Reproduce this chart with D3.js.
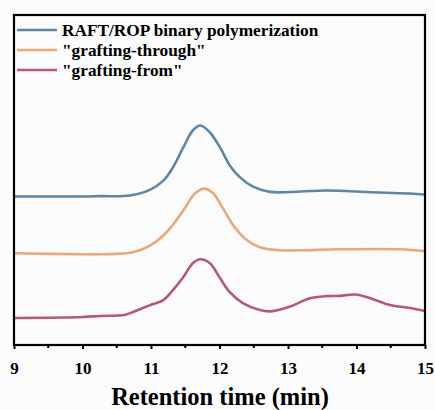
<!DOCTYPE html>
<html>
<head>
<meta charset="utf-8">
<script src="https://cdn.jsdelivr.net/npm/d3@7"></script>
<style>
  html, body { margin: 0; padding: 0; background: #fbfbfb; }
  svg { display: block; }
  text { font-family: "Liberation Serif", "Times New Roman", serif; font-weight: bold; fill: #000; }
</style>
</head>
<body>
<svg id="chart" width="435" height="410"></svg>
<script>
// Retention times (min) and detector signal (offset traces, arbitrary units)
const raftTime = [9.0, 9.5, 10.0, 10.26, 10.69, 10.99, 11.18, 11.32, 11.47, 11.61, 11.72, 11.86, 12.01, 12.15, 12.30, 12.49, 12.74, 13.18, 13.54, 13.91, 14.34, 14.78, 15.0];
const raftSignal = [4.50, 4.50, 4.50, 4.51, 4.53, 4.71, 4.98, 5.38, 5.98, 6.50, 6.65, 6.44, 5.98, 5.44, 5.08, 4.80, 4.64, 4.65, 4.68, 4.66, 4.62, 4.59, 4.56];

const throughTime = [9.0, 10.0, 10.26, 10.74, 10.99, 11.18, 11.35, 11.50, 11.64, 11.78, 11.91, 12.05, 12.20, 12.37, 12.59, 12.88, 13.18, 13.76, 14.63, 15.0];
const throughSignal = [2.78, 2.75, 2.75, 2.81, 3.02, 3.32, 3.72, 4.17, 4.59, 4.74, 4.59, 4.14, 3.63, 3.23, 2.96, 2.87, 2.87, 2.90, 2.90, 2.84];

const fromTime = [9.0, 10.0, 10.26, 10.61, 10.74, 10.88, 11.03, 11.18, 11.32, 11.47, 11.61, 11.72, 11.86, 12.01, 12.15, 12.34, 12.59, 12.75, 13.01, 13.18, 13.32, 13.54, 13.76, 13.98, 14.20, 14.49, 14.78, 15.0];
const fromSignal = [0.82, 0.85, 0.88, 0.91, 1.00, 1.12, 1.24, 1.36, 1.66, 2.05, 2.48, 2.60, 2.48, 2.02, 1.60, 1.27, 1.06, 1.02, 1.15, 1.30, 1.42, 1.48, 1.49, 1.53, 1.42, 1.21, 1.12, 1.03];

const seriesNames = ["RAFT/ROP binary polymerization", "\"grafting-through\"", "\"grafting-from\""];
const seriesColors = ["#6086a5", "#e8a878", "#b55a6f"];
const xTicks = [9, 10, 11, 12, 13, 14, 15];
const xMinorTicks = [9.5, 10.5, 11.5, 12.5, 13.5, 14.5];
const xTitle = "Retention time (min)";

const svg = d3.select("#chart");
const plotLeft = 14, plotRight = 425, plotTop = 15, plotBottom = 345;

const x = d3.scaleLinear().domain([9, 15]).range([plotLeft, plotRight]);
const y = d3.scaleLinear().domain([0, 10]).range([plotBottom, plotTop]);

const series = [
  { name: seriesNames[0], color: seriesColors[0], pts: raftTime.map((t, i) => [t, raftSignal[i]]) },
  { name: seriesNames[1], color: seriesColors[1], pts: throughTime.map((t, i) => [t, throughSignal[i]]) },
  { name: seriesNames[2], color: seriesColors[2], pts: fromTime.map((t, i) => [t, fromSignal[i]]) }
];

const line = d3.line()
  .x(d => x(d[0]))
  .y(d => y(d[1]))
  .curve(d3.curveCatmullRom.alpha(0.5));

svg.append("g")
  .selectAll("path")
  .data(series)
  .join("path")
  .attr("d", d => line(d.pts))
  .attr("fill", "none")
  .attr("stroke", d => d.color)
  .attr("stroke-width", 2.6)
  .attr("stroke-linejoin", "round");

// bottom axis: major + minor ticks, labels
const axis = svg.append("g").attr("transform", `translate(0,${plotBottom})`);
axis.call(d3.axisBottom(x).tickValues(xTicks).tickSize(4).tickFormat(d3.format("d")))
  .call(g => g.select(".domain").remove())
  .call(g => g.selectAll(".tick line").attr("stroke", "#000").attr("stroke-width", 2))
  .call(g => g.selectAll(".tick text")
    .attr("y", 29).attr("dy", 0)
    .style("font-family", "'Liberation Serif', serif")
    .style("font-weight", "bold")
    .style("font-size", "17px")
    .attr("fill", "#000"));
axis.selectAll(".minor")
  .data(xMinorTicks)
  .join("line")
  .attr("class", "minor")
  .attr("x1", d => x(d)).attr("x2", d => x(d))
  .attr("y1", 0).attr("y2", 3)
  .attr("stroke", "#000").attr("stroke-width", 2);

// frame
svg.append("rect")
  .attr("x", plotLeft).attr("y", plotTop)
  .attr("width", plotRight - plotLeft).attr("height", plotBottom - plotTop)
  .attr("fill", "none").attr("stroke", "#000").attr("stroke-width", 2.2);

// axis title
svg.append("text")
  .attr("x", 220).attr("y", 405)
  .attr("text-anchor", "middle")
  .style("font-size", "24.5px")
  .text(xTitle);

// legend
const legend = svg.append("g");
const rowY = [30, 50, 70];
series.forEach((s, i) => {
  legend.append("line")
    .attr("x1", 17).attr("x2", 57)
    .attr("y1", rowY[i]).attr("y2", rowY[i])
    .attr("stroke", s.color).attr("stroke-width", 2.6);
  legend.append("text")
    .attr("x", 62).attr("y", rowY[i] + 5.5)
    .style("font-size", "17.3px")
    .text(s.name);
});
</script>
</body>
</html>
